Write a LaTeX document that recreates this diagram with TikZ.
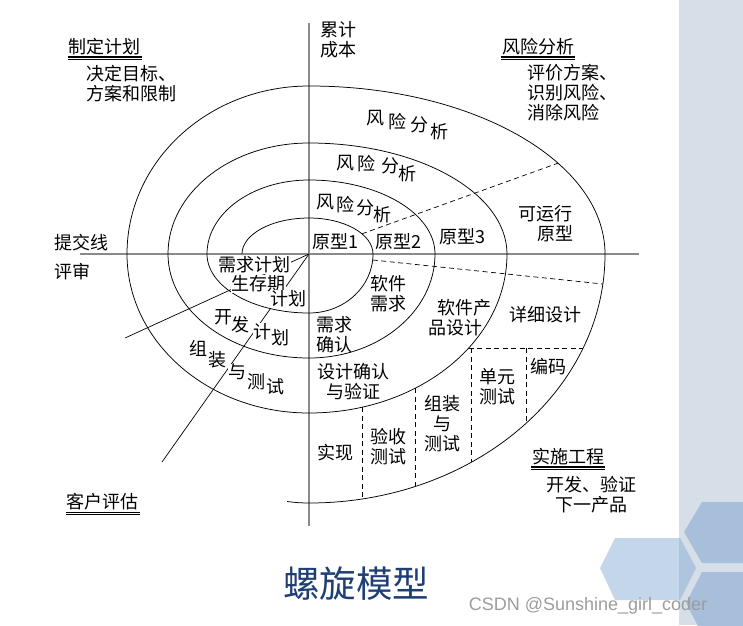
\documentclass[tikz,border=0pt]{standalone}
\usepackage{fontspec}
\setmainfont{Noto Sans CJK SC}
\newfontfamily\latinsans{Liberation Sans}
\definecolor{axisgray}{HTML}{8A8A8A}
\definecolor{panelgray}{HTML}{D6DFE8}
\definecolor{hexlight}{HTML}{C4D6EA}
\definecolor{hexdark}{HTML}{A8BFDB}
\definecolor{hexmid}{HTML}{AFC4DD}
\definecolor{titleblue}{HTML}{1E3E74}
\definecolor{wmgray}{HTML}{9C9C9C}
\begin{document}
\begin{tikzpicture}[x=1pt,y=1pt,
  spiral/.style={line width=0.75pt, draw=black},
  axisline/.style={line width=1.3pt, draw=axisgray},
  radial/.style={line width=0.7pt, draw=black},
  dline/.style={line width=0.7pt, draw=black, dash pattern=on 5pt off 3.5pt},
  lbl/.style={font=\fontsize{18}{20}\selectfont, inner sep=0pt, align=center},
  lblw/.style={lbl, fill=white, inner sep=0.5pt},
  ulthick/.style={line width=1.2pt},
  ulthin/.style={line width=0.7pt}]
\useasboundingbox (-309,-371) rectangle (434,254);
\begin{scope}
\clip (-309,-371) rectangle (434,254);
% right panel and hexagons
\fill[panelgray] (370,-371) rectangle (434,254);
\fill[hexlight] (291,-314) -- (306,-284) -- (371,-284) -- (387,-314) -- (371,-346) -- (306,-346) -- cycle;
\begin{scope}
\clip (370,-371) rectangle (434,254);
\fill[hexmid] (291,-314) -- (306,-284) -- (371,-284) -- (387,-314) -- (371,-346) -- (306,-346) -- cycle;
\end{scope}
\fill[hexdark] (375,-278) -- (393,-248) -- (441,-248) -- (459,-278) -- (441,-309) -- (393,-309) -- cycle;
\fill[hexdark] (377,-349) -- (393,-318) -- (441,-318) -- (459,-349) -- (441,-380) -- (393,-380) -- cycle;
\end{scope}

% axes
\coordinate (O) at (0,0);
\coordinate (vtop) at (0,231);
\coordinate (vbot) at (0,-272);
\coordinate (hleft) at (-229,0);
\coordinate (hright) at (330,0);
\draw[axisline] (vtop) -- (vbot);
\draw[axisline] (hleft) -- (hright);

% spiral
\draw[spiral] (-67,0)
  arc[start angle=180,end angle=90,x radius=67,y radius=36]
  arc[start angle=90,end angle=0,x radius=64,y radius=36]
  arc[start angle=0,end angle=-90,x radius=64,y radius=59]
  arc[start angle=270,end angle=180,x radius=102,y radius=59]
  arc[start angle=180,end angle=90,x radius=102,y radius=74]
  arc[start angle=90,end angle=0,x radius=126,y radius=74]
  arc[start angle=0,end angle=-90,x radius=126,y radius=104]
  arc[start angle=270,end angle=180,x radius=141,y radius=104]
  arc[start angle=180,end angle=90,x radius=141,y radius=111]
  arc[start angle=90,end angle=0,x radius=198,y radius=111]
  arc[start angle=0,end angle=-90,x radius=198,y radius=159]
  arc[start angle=270,end angle=180,x radius=182,y radius=159]
  arc[start angle=180,end angle=90,x radius=182,y radius=168]
  arc[start angle=90,end angle=0,x radius=296,y radius=168]
  arc[start angle=0,end angle=-90,x radius=296,y radius=249]
  arc[start angle=270,end angle=263.7,x radius=200,y radius=249];

% radial lines
\coordinate (r1) at (-184,-84);
\coordinate (r2) at (-147,-208);
\draw[radial] (O) -- (r1);
\draw[radial] (O) -- (r2);

% dashed lines
\coordinate (d1a) at (53,{36*sqrt(1-(53/64)^2)});
\coordinate (d1b) at (249,{168*sqrt(1-(249/296)^2)});
\draw[dline] (d1a) -- (d1b);
\coordinate (d2a) at (63.7,-6);
\coordinate (d2b) at ({296*sqrt(1-(30/249)^2)},-30);
\draw[dline] (d2a) -- (d2b);
\coordinate (h1a) at ({198*sqrt(1-(94/159)^2)},-94);
\coordinate (h1b) at ({296*sqrt(1-(94/249)^2)},-94);
\draw[dline] (h1a) -- (h1b);
\coordinate (v1a) at (162,-94);
\coordinate (v1b) at (162,{-249*sqrt(1-(162/296)^2)});
\draw[dline] (v1a) -- (v1b);
\coordinate (v2a) at (217,-94);
\coordinate (v2b) at (217,{-249*sqrt(1-(217/296)^2)});
\draw[dline] (v2a) -- (v2b);
\coordinate (v3a) at (106,{-159*sqrt(1-(106/198)^2)});
\coordinate (v3b) at (106,{-249*sqrt(1-(106/296)^2)});
\draw[dline] (v3a) -- (v3b);
\coordinate (v4a) at (53,{-159*sqrt(1-(53/198)^2)});
\coordinate (v4b) at (53,{-249*sqrt(1-(53/296)^2)});
\draw[dline] (v4a) -- (v4b);

% corner headers
\node[lbl, anchor=west] (cost) at (11,214) {累计\\成本};
\node[lbl] (hplan) at (-204,207) {制定计划};
\draw[ulthick] ([xshift=-1pt,yshift=-1.5pt]hplan.south west) -- ([xshift=1pt,yshift=-1.5pt]hplan.south east);
\draw[ulthin] ([xshift=-1pt,yshift=-4pt]hplan.south west) -- ([xshift=1pt,yshift=-4pt]hplan.south east);
\node[lbl, align=left, anchor=west] (tplan) at (-223,170) {决定目标、\\方案和限制};
\node[lbl] (hrisk) at (229,207) {风险分析};
\draw[ulthick] ([xshift=-1pt,yshift=-1.5pt]hrisk.south west) -- ([xshift=1pt,yshift=-1.5pt]hrisk.south east);
\draw[ulthin] ([xshift=-1pt,yshift=-4pt]hrisk.south west) -- ([xshift=1pt,yshift=-4pt]hrisk.south east);
\node[lbl, align=left, anchor=west] (trisk) at (218,161) {评价方案、\\识别风险、\\消除风险};
\node[lbl] (heng) at (259,-203) {实施工程};
\draw[ulthick] ([xshift=-1pt,yshift=-1.5pt]heng.south west) -- ([xshift=1pt,yshift=-1.5pt]heng.south east);
\draw[ulthin] ([xshift=-1pt,yshift=-4pt]heng.south west) -- ([xshift=1pt,yshift=-4pt]heng.south east);
\node[lbl] (teng) at (282,-241) {开发、验证\\下一产品};
\node[lbl] (hcust) at (-206,-248) {客户评估};
\draw[ulthick] ([xshift=-1pt,yshift=-1.5pt]hcust.south west) -- ([xshift=1pt,yshift=-1.5pt]hcust.south east);
\draw[ulthin] ([xshift=-1pt,yshift=-4pt]hcust.south west) -- ([xshift=1pt,yshift=-4pt]hcust.south east);
\node[lbl] (commit) at (-227,11) {提交线};
\node[lbl] (review) at (-236,-18) {评审};

% risk analysis rings
\node[lbl] (ra1) at (66,136) {风};
\node[lbl] (ra2) at (88,132) {险};
\node[lbl] (ra3) at (110,129) {分};
\node[lbl] (ra4) at (130,122) {析};
\node[lbl] (rb1) at (36,91) {风};
\node[lbl] (rb2) at (57,90) {险};
\node[lbl] (rb3) at (81,88) {分};
\node[lbl] (rb4) at (98,80) {析};
\node[lbl] (rc1) at (16,52) {风};
\node[lbl] (rc2) at (36,49) {险};
\node[lbl] (rc3) at (56,46) {分};
\node[lbl] (rc4) at (73,39) {析};

% prototypes
\node[lbl] (p1) at (26,12) {原型1};
\node[lbl] (p2) at (89,12) {原型2};
\node[lbl] (p3) at (153,17) {原型3};
\node[lbl] (p4) at (236,30) {可运行\\\hspace*{1.2em}原型};

% lower-left
\node[lblw] (q1) at (-55,-11) {需求计划};
\node[lblw] (q2) at (-51,-30) {生存期};
\node[lblw] (q3) at (-21,-45) {计划};
\node[lblw] (k1) at (-86,-63) {开};
\node[lblw] (k2) at (-69,-71) {发};
\node[lblw] (k3) at (-47,-78) {计};
\node[lblw] (k4) at (-29,-84) {划};
\node[lblw] (z1) at (-111,-94) {组};
\node[lblw] (z2) at (-92,-106) {装};
\node[lblw] (z3) at (-72,-118) {与};
\node[lblw] (z4) at (-53,-128) {测};
\node[lblw] (z5) at (-34,-133) {试};

% lower-right
\node[lbl, align=left] (n1) at (25,-81) {需求\\确认};
\node[lbl] (n2) at (79,-40) {软件\\需求};
\node[lbl] (n3) at (146,-64) {\hspace*{1em}软件产\\品设计};
\node[lbl] (n4) at (236,-61) {详细设计};
\node[lbl] (n5) at (44,-128) {设计确认\\与验证};
\node[lbl] (n6) at (188,-133) {单元\\测试};
\node[lbl] (n7) at (239,-113) {编码};
\node[lbl] (n8) at (133,-170) {组装\\与\\测试};
\node[lbl] (n9) at (79,-193) {验收\\测试};
\node[lbl] (n10) at (26,-199) {实现};

% title & watermark
\node[inner sep=0pt, font=\fontsize{36.5}{40}\selectfont, text=titleblue] (title) at (47,-330) {螺旋模型};
\node[inner sep=0pt, font=\latinsans\fontsize{18}{20}\selectfont, text=wmgray] (wm) at (279,-352) {CSDN @Sunshine\_girl\_coder};
\end{tikzpicture}
\end{document}
